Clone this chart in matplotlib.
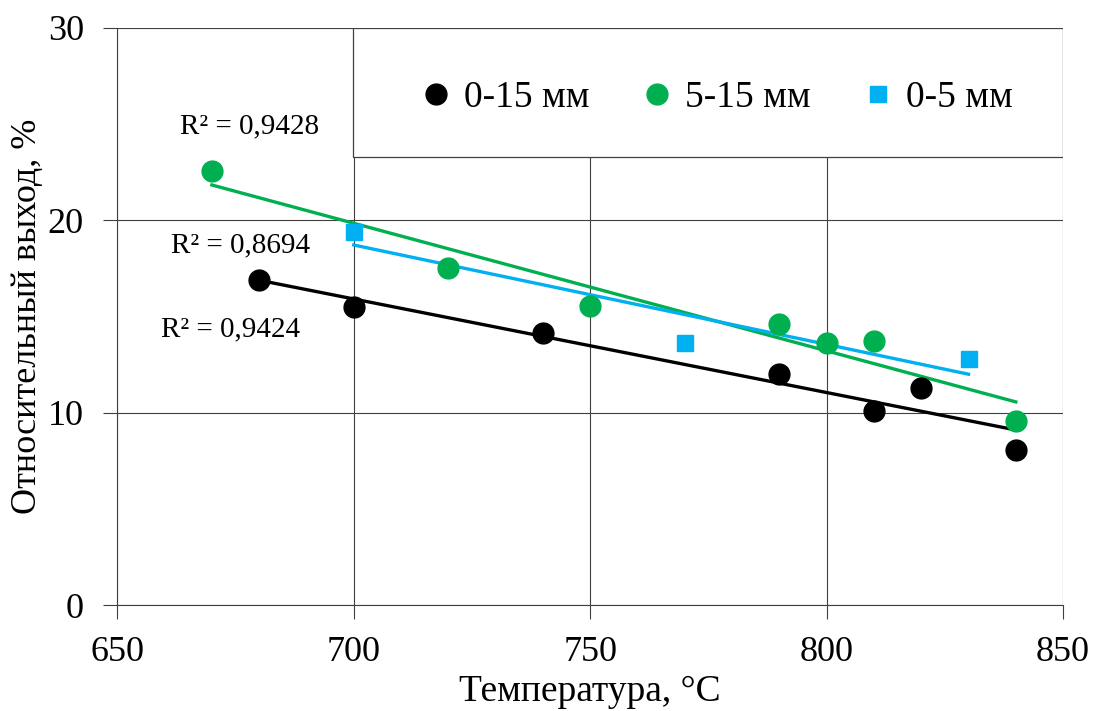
import matplotlib
matplotlib.use('Agg')
import matplotlib.pyplot as plt
from matplotlib.patches import Rectangle
import numpy as np

plt.rcParams['font.family'] = ['Liberation Serif', 'DejaVu Serif']

# Данные
t_0_15 = [680, 700, 740, 790, 810, 820, 840]
y_0_15 = [16.9, 15.5, 14.15, 12.0, 10.1, 11.3, 8.05]

t_5_15 = [670, 720, 750, 790, 800, 810, 840]
y_5_15 = [22.55, 17.5, 15.55, 14.6, 13.6, 13.7, 9.55]

t_0_5 = [700, 770, 830]
y_0_5 = [19.4, 13.6, 12.8]

r2_labels = ['R² = 0,9428', 'R² = 0,8694', 'R² = 0,9424']
r2_pos = [(678, 24.9), (676, 18.7), (674, 14.3)]

black = '#000000'
green = '#00B050'
blue = '#00B0F0'

fig = plt.figure(figsize=(10.96, 7.11), dpi=100)
ax = fig.add_axes([0.107, 0.149, 0.863, 0.812])


def trend(x, y):
    k, b = np.polyfit(x, y, 1)
    xs = np.array([min(x), max(x)])
    return xs, k * xs + b


# Линии тренда
for x, y, c in [(t_5_15, y_5_15, green), (t_0_5, y_0_5, blue), (t_0_15, y_0_15, black)]:
    xs, ys = trend(x, y)
    ax.plot(xs, ys, color=c, lw=2.4, zorder=3)

ax.plot(t_0_15, y_0_15, 'o', color=black, ms=15, ls='none', label='0-15 мм', zorder=4)
ax.plot(t_5_15, y_5_15, 'o', color=green, ms=15, ls='none', label='5-15 мм', zorder=4)
ax.plot(t_0_5, y_0_5, 's', color=blue, ms=12, ls='none', label='0-5 мм', zorder=4)

for txt, (px, py) in zip(r2_labels, r2_pos):
    ax.text(px, py, txt, fontsize=21, ha='center', va='center')

ax.set_xlim(650, 850)
ax.set_ylim(0, 30)
ax.set_xticks([650, 700, 750, 800, 850])
ax.set_yticks([0, 10, 20, 30])
ax.grid(True, color='#404040', lw=0.8)
ax.set_axisbelow(True)
for s in ['top', 'right']:
    ax.spines[s].set_visible(False)
for s in ['left', 'bottom']:
    ax.spines[s].set_color('#404040')
    ax.spines[s].set_linewidth(0.8)
ax.tick_params(axis='both', labelsize=26, length=10, width=0.8, color='#404040', direction='out')
ax.tick_params(axis='x', pad=12)
ax.tick_params(axis='y', pad=14)

ax.set_xlabel('Температура, °C', fontsize=27, labelpad=4)
ax.set_ylabel('Относительный выход, %', fontsize=26, labelpad=3)

# рамка легенды
box = Rectangle((0.249, 0.776), 0.751, 0.224, transform=ax.transAxes,
                facecolor='white', edgecolor='#404040', lw=0.9, zorder=5)
ax.add_patch(box)

leg = ax.legend(loc='center', bbox_to_anchor=(0.632, 0.878), ncol=3,
                fontsize=27, frameon=False, handlelength=1.0, handletextpad=0.25,
                columnspacing=1.3, borderaxespad=0)
leg.set_zorder(6)

fig.savefig('out.png', dpi=100)
